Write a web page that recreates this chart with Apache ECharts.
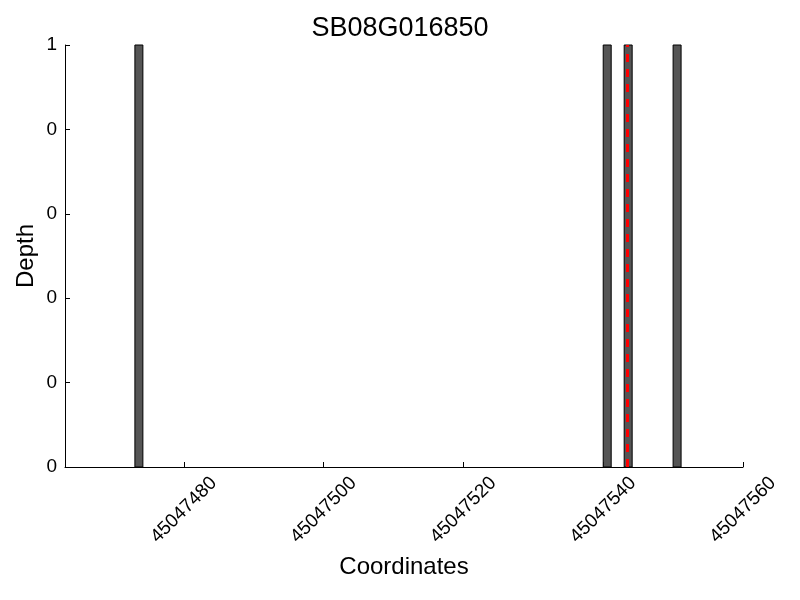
<!DOCTYPE html>
<html><head><meta charset="utf-8">
<script src="https://cdn.jsdelivr.net/npm/echarts@6/dist/echarts.min.js"></script>
<style>html,body{margin:0;padding:0;background:#fff}#c{width:800px;height:600px}</style>
</head><body><div id="c"></div>
<script>
const titleText = 'SB08G016850';
const positions = [45047473, 45047540, 45047543, 45047550];
const depths = [1, 1, 1, 1];
const snpPositions = [45047543.5];
const xTicks = [45047480, 45047500, 45047520, 45047540, 45047560];
const xMin = 45047463, xMax = 45047560;
const yTicks = [0, 0.2, 0.4, 0.6, 0.8, 1];

const font = 'Liberation Sans, Arial, sans-serif';
const chart = echarts.init(document.getElementById('c'));
chart.setOption({
  animation: false,
  backgroundColor: '#fff',
  title: { text: titleText, left: 'center', top: 10, textStyle: { fontFamily: font, fontSize: 27, fontWeight: 'normal', color: '#000' } },
  grid: { left: 65, right: 57, top: 45, bottom: 133 },
  xAxis: {
    type: 'value', min: xMin, max: xMax,
    name: 'Coordinates', nameLocation: 'middle', nameGap: 88, nameMoveOverlap: false,
    nameTextStyle: { fontFamily: font, fontSize: 24, color: '#000' },
    axisLine: { show: true, onZero: false, lineStyle: { color: '#000', width: 1 } },
    axisTick: { show: true, inside: true, length: 5, customValues: xTicks, lineStyle: { color: '#000' } },
    axisLabel: { customValues: xTicks, rotate: 45, align: 'center', verticalAlign: 'middle', margin: 43,
      fontFamily: font, fontSize: 19, color: '#000', formatter: v => String(v) },
    splitLine: { show: false }
  },
  yAxis: {
    type: 'value', min: 0, max: 1, interval: 0.2,
    name: 'Depth', nameLocation: 'middle', nameGap: 27, nameMoveOverlap: false,
    nameTextStyle: { fontFamily: font, fontSize: 24, color: '#000' },
    axisLine: { show: true, lineStyle: { color: '#000', width: 1 } },
    axisTick: { show: true, inside: true, length: 5, lineStyle: { color: '#000' } },
    axisLabel: { margin: 8, fontFamily: font, fontSize: 19, color: '#000',
      formatter: v => String(Math.floor(v + 1e-9)) },
    splitLine: { show: false }
  },
  series: [{
    type: 'custom',
    data: positions.map((p, i) => [p, depths[i]]),
    renderItem: function (params, api) {
      const x = api.value(0), d = api.value(1);
      const p0 = api.coord([x, 0]);
      const p1 = api.coord([x + 1, d]);
      return { type: 'rect', shape: { x: p0[0], y: p1[1], width: p1[0] - p0[0] + 1, height: p0[1] - p1[1] },
        style: { fill: '#555555', stroke: '#000', lineWidth: 1 } };
    },
    markLine: {
      symbol: 'none', silent: true, label: { show: false },
      lineStyle: { color: '#ff0000', width: 3, type: [8, 7] },
      data: snpPositions.map(v => ({ xAxis: v }))
    }
  }]
});
</script></body></html>
